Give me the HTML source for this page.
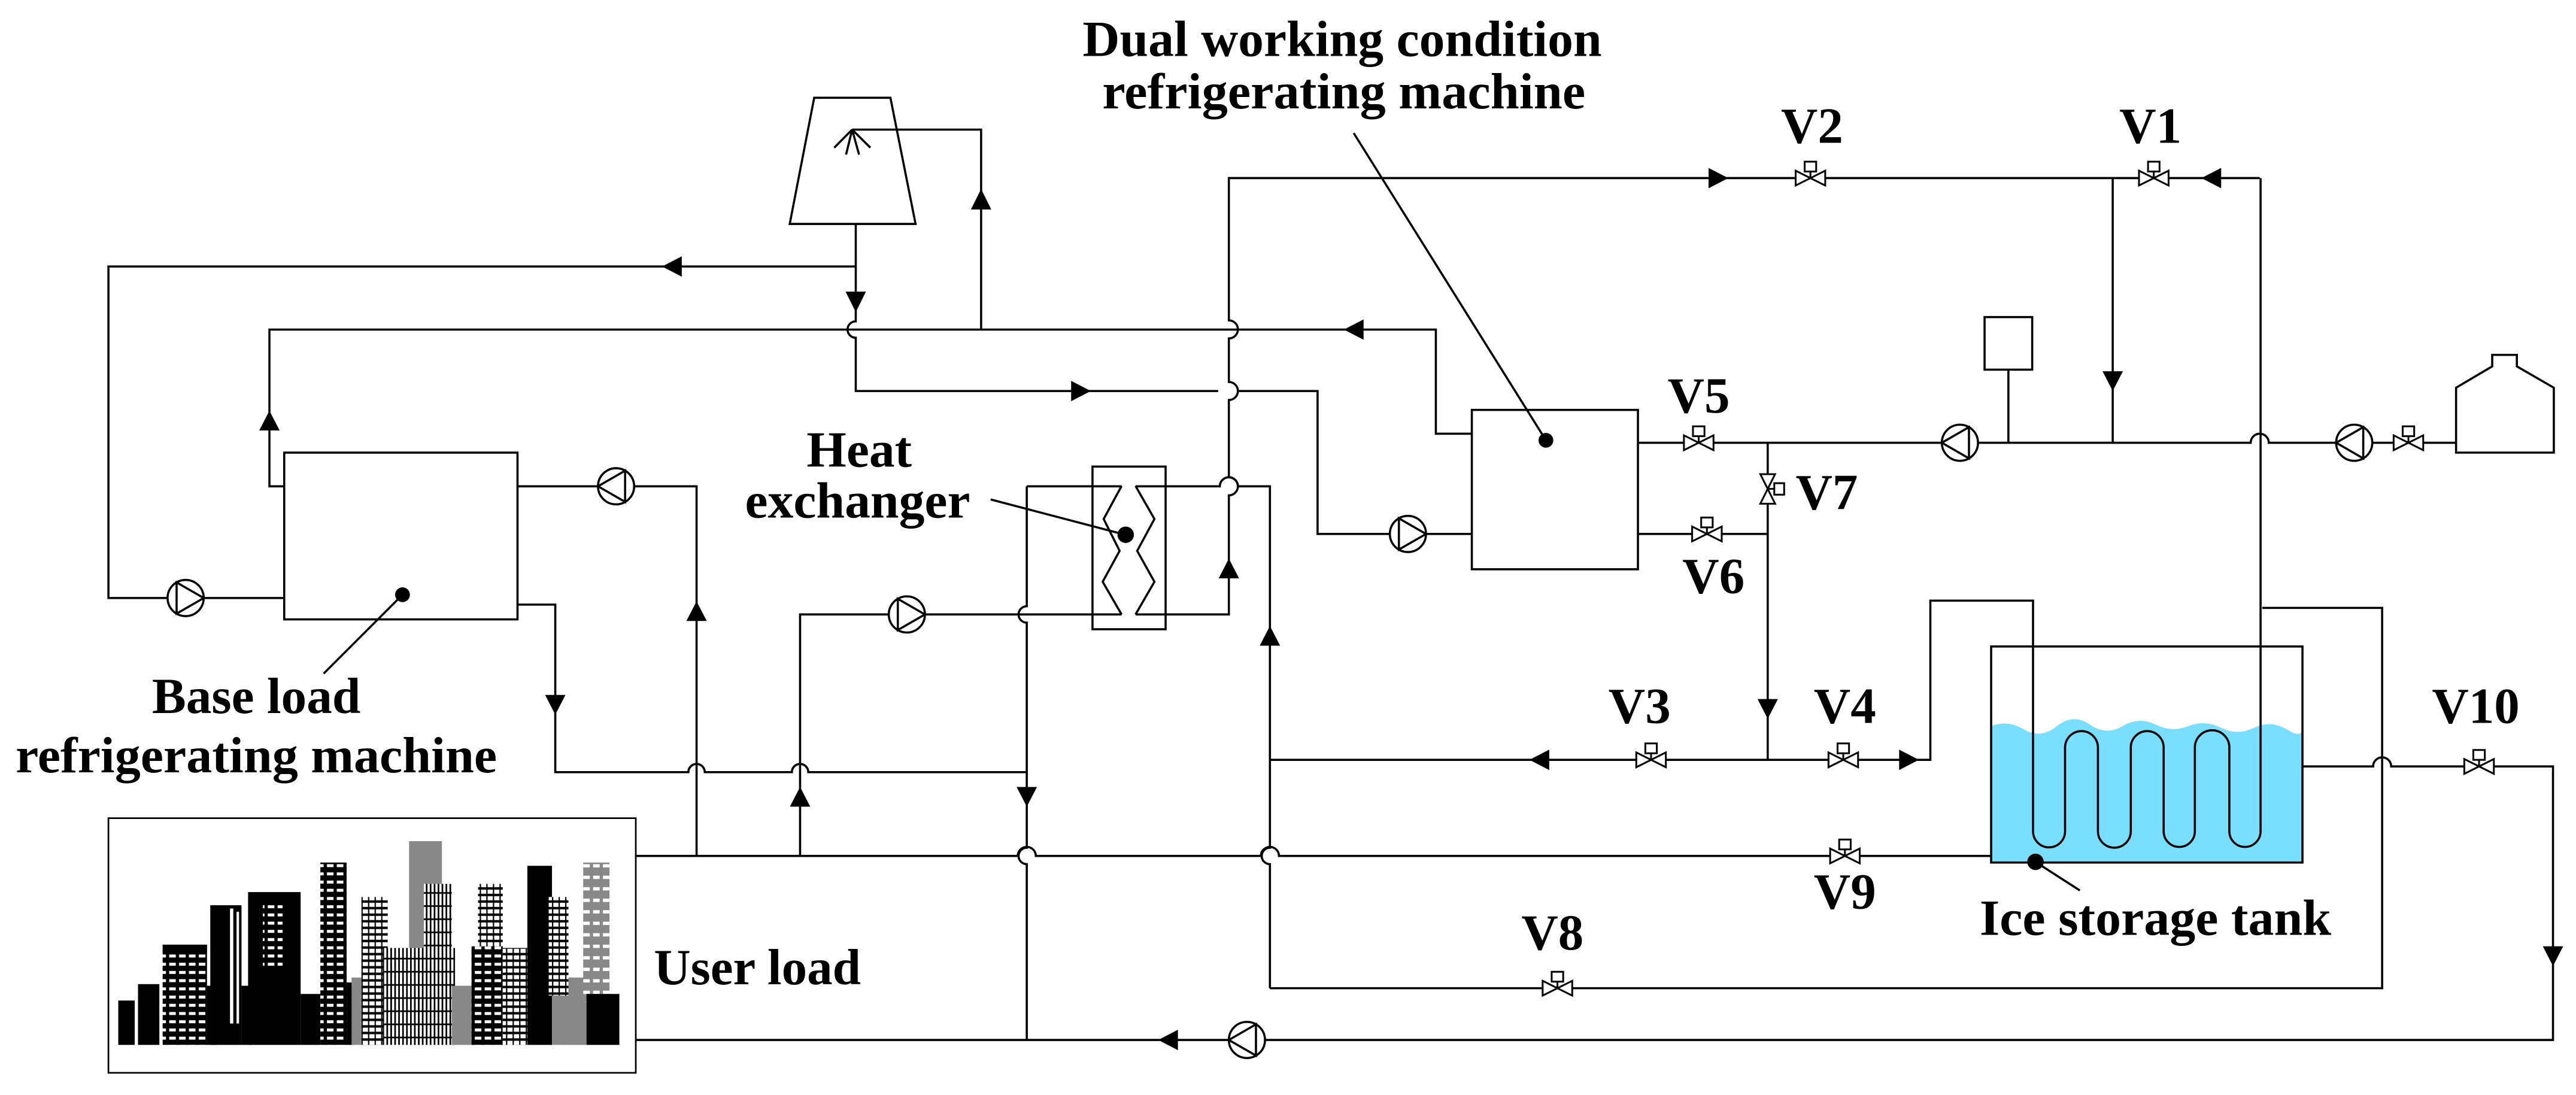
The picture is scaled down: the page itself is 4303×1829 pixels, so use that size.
<!DOCTYPE html>
<html><head><meta charset="utf-8"><style>
html,body{margin:0;padding:0;background:#fff;}
svg{display:block;}
text{font-family:"Liberation Serif",serif;font-weight:bold;fill:#000;}
</style></head><body>
<svg width="4303" height="1829" viewBox="0 0 1568 666.5" preserveAspectRatio="none" xmlns="http://www.w3.org/2000/svg">
<defs>
<pattern id="wb" width="6" height="5" patternUnits="userSpaceOnUse"><rect width="6" height="5" fill="#000"/><rect x="1" y="1" width="4" height="1.8" fill="#fff"/></pattern>
<pattern id="wv" width="2.4" height="8" patternUnits="userSpaceOnUse"><rect width="2.4" height="8" fill="#fff"/><rect width="1" height="8" fill="#000"/><rect y="7" width="2.4" height="1" fill="#000"/></pattern>
<pattern id="wg" width="6" height="7" patternUnits="userSpaceOnUse"><rect width="6" height="7" fill="#888"/><rect x="1" y="1" width="4" height="2" fill="#fff"/></pattern>
<pattern id="ws" width="4" height="4" patternUnits="userSpaceOnUse"><rect width="4" height="4" fill="#fff"/><rect width="4" height="1.5" fill="#000"/><rect width="0.8" height="4" fill="#000"/></pattern>
</defs>

<!-- Ice storage tank water -->
<path d="M1212 442 Q1222 438 1232 444 T1252 442 T1272 441 T1292 442 T1312 441 T1332 442 T1352 443 T1372 443 T1392 444 T1401 443 V525 H1212 Z" fill="#7adfff"/>

<g fill="none" stroke="#000" stroke-width="1.3">
<!-- tower -->
<path d="M495.6 59.5 H542 L557.3 136.3 H480.7 Z" fill="#fff"/>
<path d="M518.7 78.9 H597.2 V200.6"/>
<path d="M518.7 78.9 L507.8 89.9 M518.7 78.9 L515 94.1 M518.7 78.9 L522.9 94.1 M518.7 78.9 L529.8 89.9"/>
<!-- tower outlet -->
<path d="M520.9 136.3 V195.6 A5 5 0 0 0 520.9 205.6 V238 H741.5 M753.5 238 H802 V325 H846 M868 325 H895.9"/>
<path d="M520.9 162.2 H66 V364 H102 M124 364 H173"/>
<!-- y=201 line -->
<path d="M895.9 264 H874 V200.6 H164 V296 H173"/>
<!-- base load box -->
<rect x="173" y="275.5" width="142" height="101.5"/>
<path d="M315 296 H364 M386 296 H424 V521"/>
<path d="M315 368 H338 V470 H419 A5 5 0 0 1 429 470 H482 A5 5 0 0 1 492 470 H625"/>
<!-- pump2 line -->
<path d="M487 521 V374 H541 M563 374 H682.7"/>
<!-- x=625 vertical -->
<path d="M625 296 V369 A5 5 0 0 0 625 379 V516 A5 5 0 0 0 625 526 V633"/>
<path d="M625 296 H682.7"/>
<!-- HX -->
<rect x="665" y="284" width="44.5" height="99" fill="none"/>
<path d="M682.7 295.8 L671.8 315.9 L681.5 335.3 L671.2 354.1 L682.7 374"/>
<path d="M691.2 295.8 L702.7 315.9 L692.2 335.3 L702.7 354.1 L691.2 374"/>
<path d="M691.2 296 H742.5 A5.5 5.5 0 0 1 753.5 296 H773 V516 A5 5 0 0 0 773 526 V601.5"/>
<path d="M691.2 374 H748 V301.5 A5.5 5.5 0 0 0 748 290.5 V243.5 A5.5 5.5 0 0 0 748 232.5 V206 A5.5 5.5 0 0 0 748 195 V108.4 H1375.5"/>
<!-- dual box -->
<rect x="895.9" y="249.5" width="101.1" height="97"/>
<path d="M997 269.5 H1182 M1204 269.5 H1370 A5.5 5.5 0 0 1 1381 269.5 H1422 M1444 269.5 H1495"/>
<path d="M997 325 H1076 M1076 269.5 V462.5"/>
<path d="M1222.5 225 V269.5"/>
<rect x="1208" y="193" width="29" height="32"/>
<path d="M1495 275.5 V236 L1517 223 V216 H1532 V223 L1554.5 236 V275.5 Z"/>
<path d="M1286 108.4 V269.5"/>
<!-- V3/V4 line and coil -->
<path d="M773 462.5 H1175 V365.6 H1237.5 V506 A9.75 9.75 0 0 0 1257 506 V455 A10 10 0 0 1 1277 455 V506 A10 10 0 0 0 1297 506 V455 A10 10 0 0 1 1317 455 V506 A9.5 9.5 0 0 0 1336 506 V455 A10.5 10.5 0 0 1 1357 455 V506 A9.5 9.5 0 0 0 1376 506 V108.4"/>
<rect x="1212" y="393.5" width="189.5" height="131.5"/>
<path d="M1377 370 H1450 V601.5 H773"/>
<path d="M1401.5 466.5 H1444.5 A5.5 5.5 0 0 1 1455.5 466.5 H1554 V633 H770 M748 633 H387"/>
<path d="M387 521 H619.5 A5.5 5.5 0 0 1 630.5 521 H767.5 A5.5 5.5 0 0 1 778.5 521 H1212"/>
<!-- leaders -->
<path d="M245 362 L197 410 M603 304 L685 325.5 M941 268 L824 81 M1239 524.6 L1266 542"/>
<!-- user box -->
<rect x="66" y="498" width="321" height="155" stroke-width="1"/>
</g>
<g fill="#000">
<circle cx="245" cy="362" r="4.5"/><circle cx="685.2" cy="325.5" r="5"/><circle cx="941" cy="268" r="4.5"/><circle cx="1239" cy="524.6" r="5"/>
</g>

<!-- pumps -->
<g fill="#fff" stroke="#000" stroke-width="1.3">
<circle cx="113" cy="364" r="11"/><path d="M107.5 354.5 L107.5 373.5 L124 364 Z" fill="none"/>
<circle cx="375" cy="296" r="11"/><path d="M380.5 286.5 L380.5 305.5 L364 296 Z" fill="none"/>
<circle cx="552" cy="374" r="11"/><path d="M546.5 364.5 L546.5 383.5 L563 374 Z" fill="none"/>
<circle cx="857" cy="325" r="11"/><path d="M851.5 315.5 L851.5 334.5 L868 325 Z" fill="none"/>
<circle cx="1193" cy="269.5" r="11"/><path d="M1198.5 260 L1198.5 279 L1182 269.5 Z" fill="none"/>
<circle cx="1433" cy="269.5" r="11"/><path d="M1438.5 260 L1438.5 279 L1422 269.5 Z" fill="none"/>
<circle cx="759" cy="633" r="11"/><path d="M764.5 623.5 L764.5 642.5 L748 633 Z" fill="none"/>
</g>

<!-- valves (horizontal) -->
<g fill="#fff" stroke="#000" stroke-width="1.1">
<g transform="translate(1102,108.4)"><path d="M-9 -4.5 L9 4.5 V-4.5 L-9 4.5 Z M0 0 V-4"/><rect x="-3.5" y="-10" width="7" height="6"/></g>
<g transform="translate(1311,108.4)"><path d="M-9 -4.5 L9 4.5 V-4.5 L-9 4.5 Z M0 0 V-4"/><rect x="-3.5" y="-10" width="7" height="6"/></g>
<g transform="translate(1034,269.5)"><path d="M-9 -4.5 L9 4.5 V-4.5 L-9 4.5 Z M0 0 V-4"/><rect x="-3.5" y="-10" width="7" height="6"/></g>
<g transform="translate(1039,325)"><path d="M-9 -4.5 L9 4.5 V-4.5 L-9 4.5 Z M0 0 V-4"/><rect x="-3.5" y="-10" width="7" height="6"/></g>
<g transform="translate(1466,269.5)"><path d="M-9 -4.5 L9 4.5 V-4.5 L-9 4.5 Z M0 0 V-4"/><rect x="-3.5" y="-10" width="7" height="6"/></g>
<g transform="translate(1005,462.5)"><path d="M-9 -4.5 L9 4.5 V-4.5 L-9 4.5 Z M0 0 V-4"/><rect x="-3.5" y="-10" width="7" height="6"/></g>
<g transform="translate(1122,462.5)"><path d="M-9 -4.5 L9 4.5 V-4.5 L-9 4.5 Z M0 0 V-4"/><rect x="-3.5" y="-10" width="7" height="6"/></g>
<g transform="translate(1509,466.5)"><path d="M-9 -4.5 L9 4.5 V-4.5 L-9 4.5 Z M0 0 V-4"/><rect x="-3.5" y="-10" width="7" height="6"/></g>
<g transform="translate(1123,521)"><path d="M-9 -4.5 L9 4.5 V-4.5 L-9 4.5 Z M0 0 V-4"/><rect x="-3.5" y="-10" width="7" height="6"/></g>
<g transform="translate(948,601.5)"><path d="M-9 -4.5 L9 4.5 V-4.5 L-9 4.5 Z M0 0 V-4"/><rect x="-3.5" y="-10" width="7" height="6"/></g>
<g transform="translate(1076,297.6) rotate(90)"><path d="M-9 -4.5 L9 4.5 V-4.5 L-9 4.5 Z M0 0 V-4"/><rect x="-3.5" y="-10" width="7" height="6"/></g>
</g>

<!-- arrowheads -->
<g fill="#000">
<polygon points="597.2,115 591,127.5 603.4,127.5"/>
<polygon points="520.9,190 514.7,177.5 527.1,177.5"/>
<polygon points="403,162.2 415,156 415,168.4"/>
<polygon points="164,250 157.8,262 170.2,262"/>
<polygon points="818,200.6 830,194.4 830,206.8"/>
<polygon points="664,238 652,231.8 652,244.2"/>
<polygon points="424,366 417.8,378 430.2,378"/>
<polygon points="338,435 331.8,423 344.2,423"/>
<polygon points="487,479 480.8,491 493.2,491"/>
<polygon points="625,491 618.8,479 631.2,479"/>
<polygon points="748,340 741.8,352 754.2,352"/>
<polygon points="773,381 766.8,393 779.2,393"/>
<polygon points="1052,108.4 1040,102.2 1040,114.6"/>
<polygon points="1340,108.4 1352,102.2 1352,114.6"/>
<polygon points="1286,238 1279.8,226 1292.2,226"/>
<polygon points="1076,437.5 1069.8,425.5 1082.2,425.5"/>
<polygon points="931,462.5 943,456.3 943,468.7"/>
<polygon points="1168,462.5 1156,456.3 1156,468.7"/>
<polygon points="1554,588 1547.8,576 1560.2,576"/>
<polygon points="705,633 717,626.8 717,639.2"/>
</g>

<!-- city skyline -->
<g>
<rect x="72" y="609" width="10" height="27" fill="#000"/>
<rect x="84" y="599" width="13" height="37" fill="#000"/>
<rect x="99" y="575" width="27" height="61" fill="url(#wb)"/>
<rect x="99" y="575" width="27" height="5" fill="#000"/>
<rect x="126" y="600" width="6" height="36" fill="#000"/>
<rect x="128" y="551" width="19" height="85" fill="#000"/>
<rect x="140" y="553" width="2" height="70" fill="#fff"/><rect x="144" y="555" width="1.5" height="68" fill="#fff"/>
<rect x="147" y="600" width="6" height="36" fill="#000"/>
<rect x="151" y="543" width="32" height="93" fill="#000"/>
<rect x="160" y="550" width="12" height="40" fill="url(#wb)"/>
<rect x="183" y="605" width="12" height="31" fill="#000"/>
<rect x="195" y="525" width="16" height="111" fill="url(#wb)"/>
<rect x="211" y="598" width="4" height="38" fill="#000"/>
<rect x="214" y="595" width="6" height="41" fill="#888"/>
<rect x="249" y="512" width="20" height="124" fill="#888"/>
<rect x="220" y="546" width="16" height="90" fill="url(#ws)"/>
<rect x="233" y="577" width="44" height="59" fill="url(#wv)"/>
<rect x="258" y="538" width="17" height="39" fill="url(#wv)"/>
<rect x="275" y="600" width="12" height="36" fill="#888"/>
<rect x="291" y="538" width="15" height="40" fill="url(#ws)"/>
<rect x="287" y="576" width="19" height="60" fill="url(#wb)"/>
<rect x="306" y="577" width="15" height="59" fill="url(#ws)"/>
<rect x="321" y="527" width="15" height="109" fill="#000"/>
<rect x="334" y="546" width="12" height="60" fill="url(#ws)"/>
<rect x="336" y="606" width="21" height="30" fill="#888"/>
<rect x="346" y="595" width="11" height="41" fill="#888"/>
<rect x="355" y="525" width="16" height="85" fill="url(#wg)"/>
<rect x="357" y="605" width="20" height="31" fill="#000"/>
</g>

<!-- labels -->
<g font-size="31">
<text x="817" y="34" text-anchor="middle" textLength="316" lengthAdjust="spacingAndGlyphs">Dual working condition</text>
<text x="818" y="66" text-anchor="middle" textLength="294" lengthAdjust="spacingAndGlyphs">refrigerating machine</text>
<text x="156" y="434" text-anchor="middle" textLength="127" lengthAdjust="spacingAndGlyphs">Base load</text>
<text x="156" y="470" text-anchor="middle" textLength="293" lengthAdjust="spacingAndGlyphs">refrigerating machine</text>
<text x="523" y="284" text-anchor="middle" textLength="64" lengthAdjust="spacingAndGlyphs">Heat</text>
<text x="522" y="315" text-anchor="middle" textLength="137" lengthAdjust="spacingAndGlyphs">exchanger</text>
<text x="398" y="599" textLength="126" lengthAdjust="spacingAndGlyphs">User load</text>
<text x="1312" y="569" text-anchor="middle" textLength="214" lengthAdjust="spacingAndGlyphs">Ice storage tank</text>
<text x="1103" y="87" text-anchor="middle">V2</text>
<text x="1309" y="87" text-anchor="middle">V1</text>
<text x="1034" y="251" text-anchor="middle">V5</text>
<text x="1093" y="310">V7</text>
<text x="1043" y="361" text-anchor="middle">V6</text>
<text x="998" y="440" text-anchor="middle">V3</text>
<text x="1123" y="440" text-anchor="middle">V4</text>
<text x="1507" y="440" text-anchor="middle">V10</text>
<text x="1123" y="553" text-anchor="middle">V9</text>
<text x="945" y="578" text-anchor="middle">V8</text>
</g>
</svg>
</body></html>
